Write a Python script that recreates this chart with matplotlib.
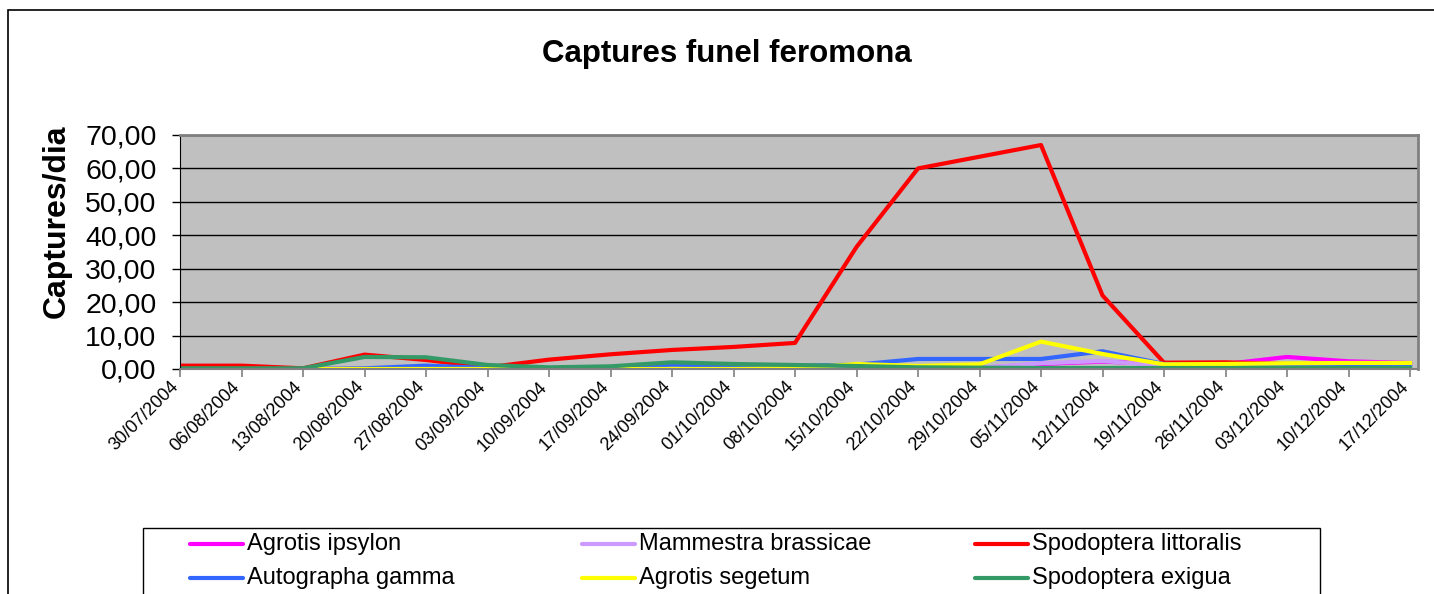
import matplotlib.pyplot as plt
from matplotlib.patches import Rectangle
from matplotlib.lines import Line2D
from matplotlib.ticker import FuncFormatter
from matplotlib.transforms import ScaledTranslation

plt.rcParams['font.family'] = ['Liberation Sans', 'DejaVu Sans']

dates = ['30/07/2004', '06/08/2004', '13/08/2004', '20/08/2004', '27/08/2004',
         '03/09/2004', '10/09/2004', '17/09/2004', '24/09/2004', '01/10/2004',
         '08/10/2004', '15/10/2004', '22/10/2004', '29/10/2004', '05/11/2004',
         '12/11/2004', '19/11/2004', '26/11/2004', '03/12/2004', '10/12/2004',
         '17/12/2004']

agrotis_ipsylon = [0, 0, 0, 0, 0, 0, 0, 0, 0, 0, 0, 0, 0, 0.3, 1.5,
                   2.2, 1.5, 1.5, 3.6, 2.3, 1.8]
mammestra_brassicae = [0, 0, 0, 0, 0, 0, 0, 0, 0, 0, 0, 0, 0.2, 0.4, 1.7,
                       2.4, 1.0, 0.8, 0.8, 0.8, 0.8]
spodoptera_littoralis = [1.0, 1.0, 0.2, 4.3, 2.7, 0.5, 2.8, 4.4, 5.7, 6.6, 7.8,
                         36.5, 60.0, 63.5, 67.0, 22.0, 1.9, 2.0, 1.5, 1.5, 1.5]
autographa_gamma = [0, 0, 0, 0.2, 1.0, 0.3, 0, 0.3, 1.3, 1.0, 0.9,
                    1.3, 3.0, 3.0, 3.0, 5.3, 1.5, 1.1, 1.1, 1.1, 1.1]
agrotis_segetum = [0, 0, 0, 0, 0, 0, 0, 0, 0, 0, 0.2,
                   1.5, 0.9, 1.4, 8.2, 4.5, 1.4, 1.5, 1.7, 1.8, 1.8]
spodoptera_exigua = [0.2, 0.2, 0.2, 3.6, 3.5, 1.2, 0.5, 0.8, 2.0, 1.5, 1.2,
                     0.9, 0.5, 0.4, 0.3, 0.3, 0.3, 0.3, 0.3, 0.3, 0.3]

series = [
    ('Agrotis ipsylon', agrotis_ipsylon, '#FF00FF'),
    ('Mammestra brassicae', mammestra_brassicae, '#CC99FF'),
    ('Spodoptera littoralis', spodoptera_littoralis, '#FF0000'),
    ('Autographa gamma', autographa_gamma, '#3366FF'),
    ('Agrotis segetum', agrotis_segetum, '#FFFF00'),
    ('Spodoptera exigua', spodoptera_exigua, '#339966'),
]

W, H = 1434, 594
fig = plt.figure(figsize=(W / 100, H / 100), dpi=100)

def fx(px):
    return px / W

def fy(py):
    return 1 - py / H

# outer chart frame (cut off on right and bottom)
fig.patches.append(Rectangle((fx(8), -0.2), 1.2, fy(10) + 0.2,
                             transform=fig.transFigure, fill=False,
                             edgecolor='black', linewidth=1.2))

ax = fig.add_axes([fx(180), fy(369), fx(1418 - 180), (369 - 135) / H])
ax.set_facecolor('#C0C0C0')

x = list(range(len(dates)))
for name, vals, col in series:
    ax.plot(x, vals, color=col, linewidth=3, label=name)

ax.set_xlim(0, 20.13)
ax.set_ylim(0, 70)
ax.set_yticks(range(0, 71, 10))
ax.yaxis.set_major_formatter(FuncFormatter(lambda v, p: f'{v:.2f}'.replace('.', ',')))
ax.yaxis.grid(True, color='black', linewidth=1)
ax.set_axisbelow(True)
ax.tick_params(axis='y', labelsize=20.5, length=6, width=1, direction='out', pad=11)

ax.set_xticks(x)
ax.set_xticklabels(dates, rotation=45, ha='right', va='center',
                   rotation_mode='anchor', fontsize=13)
ax.tick_params(axis='x', length=6, width=1.2, color='#808080', direction='out', pad=5)
shift = ScaledTranslation(-4 / 100, 0, fig.dpi_scale_trans)
for lbl in ax.get_xticklabels():
    lbl.set_transform(lbl.get_transform() + shift)

for side in ['top', 'right']:
    ax.spines[side].set_color('#808080')
    ax.spines[side].set_linewidth(2)
ax.spines['left'].set_color('black')
ax.spines['bottom'].set_color('#808080')
ax.spines['bottom'].set_linewidth(1.5)

ax.set_ylabel('Captures/dia', fontsize=23, fontweight='bold')
ax.yaxis.set_label_coords((72 - 180) / (1418 - 180), (369 - 221) / (369 - 135))

fig.text(fx(727), fy(54), 'Captures funel feromona', ha='center', va='center',
         fontsize=22.5, fontweight='bold')

# legend: frame cut by the figure bottom, entries laid out row by row
fig.patches.append(Rectangle((fx(143), -0.1), fx(1320 - 143), fy(528) + 0.1,
                             transform=fig.transFigure, fill=False,
                             edgecolor='black', linewidth=1))
col_x = [190, 582, 975]
row_y = [544, 578]
for i, (name, vals, col) in enumerate(series):
    cx = col_x[i % 3]
    ry = row_y[i // 3]
    fig.add_artist(Line2D([fx(cx), fx(cx + 53)], [fy(ry), fy(ry)], color=col,
                          linewidth=3, solid_capstyle='round',
                          transform=fig.transFigure))
    fig.text(fx(cx + 57), fy(ry), name, ha='left', va='center', fontsize=17)

fig.savefig('out.png', dpi=100)
